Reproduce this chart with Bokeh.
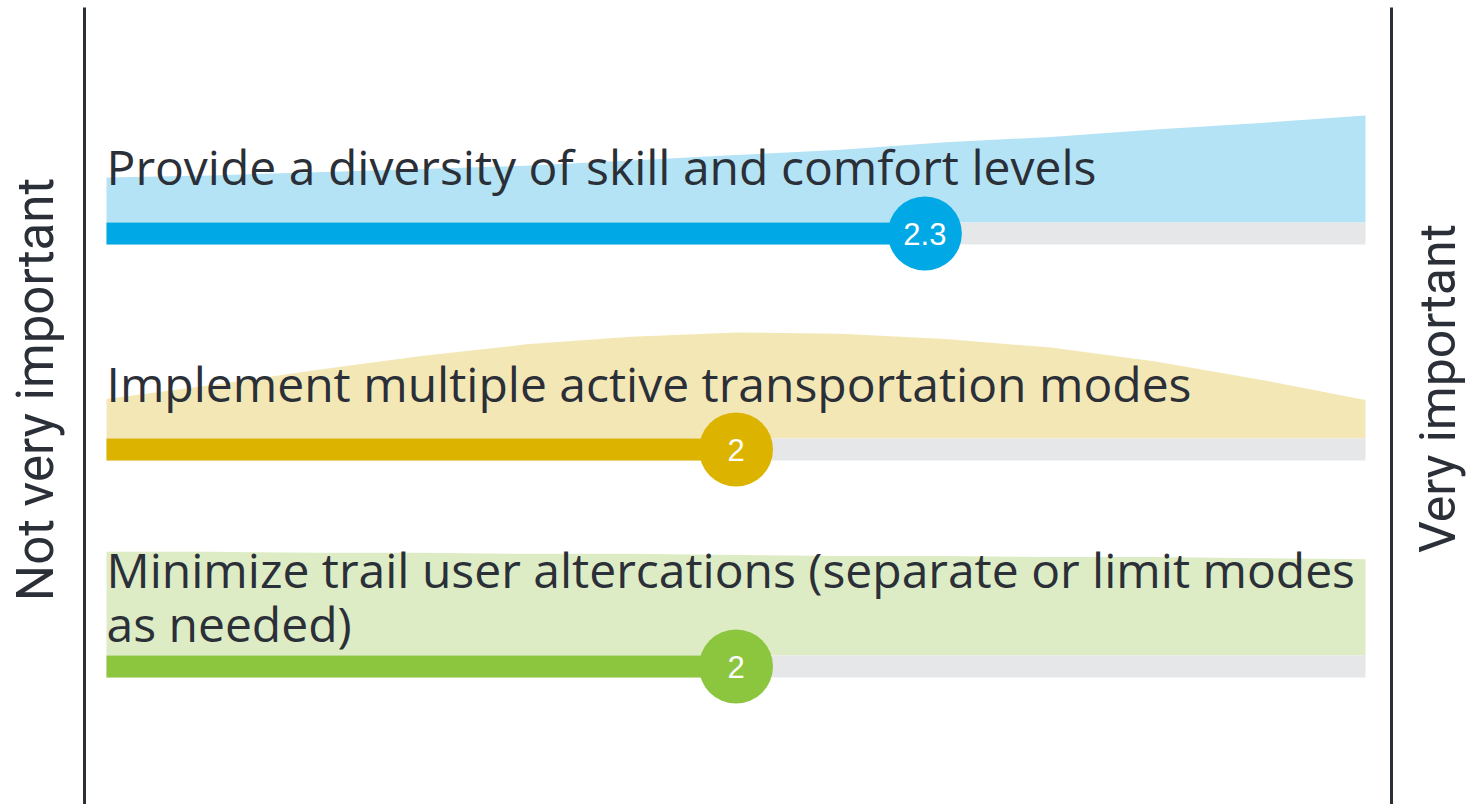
import math
from bokeh.plotting import figure
from bokeh.models import Range1d
from bokeh.core.properties import value
from bokeh.embed import file_html
from bokeh.resources import INLINE

# ---- data ----
labels = [
    ["Provide a diversity of skill and comfort levels"],
    ["Implement multiple active transportation modes"],
    ["Minimize trail user altercations (separate or limit modes", "as needed)"],
]
averages = [2.3, 2.0, 2.0]
avg_text = ["2.3", "2", "2"]
scores = [1.0, 1.1667, 1.3333, 1.5, 1.6667, 1.8333, 2.0, 2.1667, 2.3333, 2.5, 2.6667, 2.8333, 3.0]
density_1 = [0.42, 0.44, 0.47, 0.50, 0.53, 0.58, 0.63, 0.68, 0.75, 0.80, 0.87, 0.93, 1.00]
density_2 = [0.37, 0.50, 0.64, 0.77, 0.88, 0.95, 0.99, 0.98, 0.93, 0.85, 0.72, 0.55, 0.36]
density_3 = [0.97, 0.97, 0.96, 0.96, 0.95, 0.95, 0.94, 0.93, 0.93, 0.92, 0.92, 0.91, 0.90]
densities = [density_1, density_2, density_3]
scale_min, scale_max = 1, 3
left_label = "Not very important"
right_label = "Very important"

bar_colors = ["#00a9e6", "#dcb400", "#8cc63f"]
area_colors = ["#b3e3f5", "#f3e8b5", "#ddecc4"]
track_color = "#e6e7e8"
ink = "#2b2f38"

# ---- layout (picture pixels) ----
W, H = 1466, 804
PX0, PX1 = 106, 1365          # px of scale_min / scale_max
def sx(px):
    return scale_min + (px - PX0) / (PX1 - PX0) * (scale_max - scale_min)

bar_top = [222, 438, 655]
bar_h = 22
area_h = 107
label_base = [[166], [383], [569, 623]]

p = figure(width=W, height=H, output_backend="svg", toolbar_location=None,
           x_range=Range1d(sx(0), sx(W)), y_range=Range1d(H, 0),
           min_border=0, outline_line_color=None, background_fill_color="white")
p.axis.visible = False
p.grid.visible = False

for i in range(3):
    base = bar_top[i]
    top = [base - d * area_h for d in densities[i]]
    p.varea(x=scores, y1=[base] * len(scores), y2=top, fill_color=area_colors[i])
    yc = base + bar_h / 2
    p.hbar(y=[yc], left=[scale_min], right=[scale_max], height=bar_h, fill_color=track_color, line_color=None)
    p.hbar(y=[yc], left=[scale_min], right=[averages[i]], height=bar_h, fill_color=bar_colors[i], line_color=None)
    for line, yb in zip(labels[i], label_base[i]):
        p.text(x=[sx(106)], y=[yb], text=[line], text_font=value("Open Sans"), text_font_size="48px",
               text_color=ink, text_baseline="alphabetic", text_align="left")
    p.scatter(x=[averages[i]], y=[yc], size=74, marker="circle", fill_color=bar_colors[i], line_color=None)
    p.text(x=[averages[i]], y=[yc], text=[avg_text[i]], text_font=value("Liberation Sans"),
           text_font_size="31px", text_color="white", text_align="center", text_baseline="middle")

for px in (84, 1391):
    p.segment(x0=[sx(px)], y0=[7], x1=[sx(px)], y1=[H], line_color=ink, line_width=3)

p.text(x=[sx(35)], y=[389], text=[left_label], angle=math.pi / 2, text_font=value("Roboto"),
       text_font_size="51px", text_color=ink, text_align="center", text_baseline="middle")
p.text(x=[sx(1437)], y=[388], text=[right_label], angle=math.pi / 2, text_font=value("Roboto"),
       text_font_size="50px", text_color=ink, text_align="center", text_baseline="middle")

open("out.html", "w").write(file_html(p, INLINE))
